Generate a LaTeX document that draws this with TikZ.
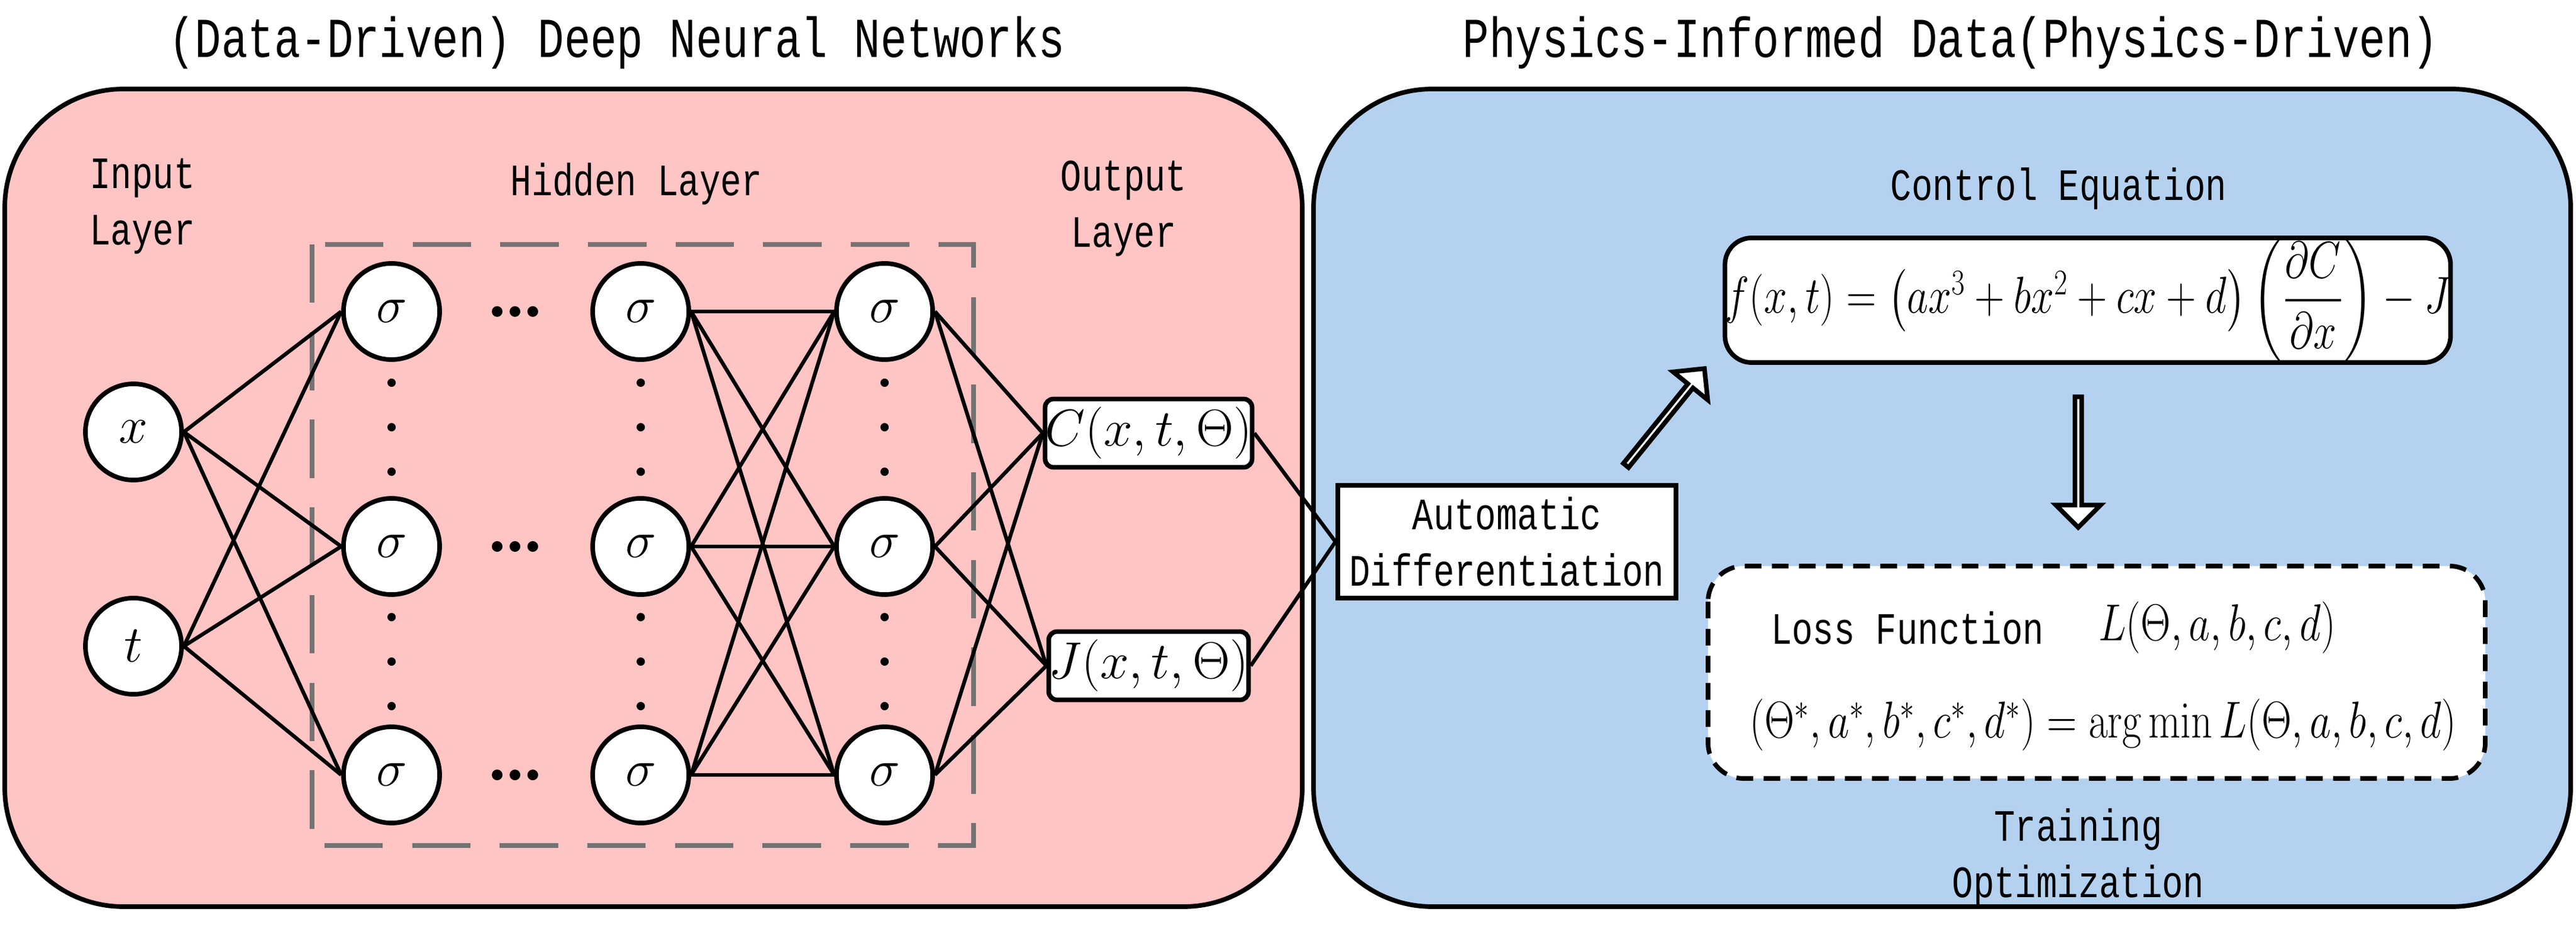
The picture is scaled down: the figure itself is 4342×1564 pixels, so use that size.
\documentclass[tikz,border=0pt]{standalone}
\usepackage[no-math]{fontspec}
\setmainfont{Liberation Mono}[FakeStretch=0.78]
\usepackage{amsmath}
\usetikzlibrary{shapes.arrows}
\definecolor{pinkbg}{RGB}{255,196,196}
\definecolor{bluebg}{RGB}{180,210,240}
\newcommand{\mth}[1]{\fontsize{30}{34}\selectfont$#1$}
\newcommand{\mtt}[1]{\fontsize{27}{32}\selectfont\scalebox{0.8}[1]{$#1$}}
\begin{document}
\begin{tikzpicture}[x=0.01cm,y=-0.01cm,
  neuron/.style={circle,draw,line width=2.2pt,fill=white,minimum size=1.62cm,inner sep=0pt},
  outbox/.style={draw,line width=2.2pt,fill=white,rounded corners=4pt,minimum width=2.8cm,minimum height=1.15cm,inner sep=0pt},
  lbl/.style={font=\fontsize{21.5}{27}\selectfont,align=center},
  ttl/.style={font=\fontsize{27}{32}\selectfont},
  conn/.style={line width=1.8pt},
  hollow/.style={single arrow,draw,line width=2.2pt,fill=white,minimum width=0.75cm,single arrow head extend=0.22cm,single arrow tip angle=90,inner sep=0pt}]
\useasboundingbox (0,0) rectangle (4342,1564);
\fill[white] (0,0) rectangle (4342,1564);
\draw[line width=2.2pt,fill=pinkbg,rounded corners=2cm] (8,150) rectangle (2195,1528);
\draw[line width=2.2pt,fill=bluebg,rounded corners=2cm] (2214,150) rectangle (4333,1528);
\node[ttl] (t1) at (1040,72) {(Data-Driven) Deep Neural Networks};
\node[ttl] (t2) at (3288,72) {Physics-Informed Data(Physics-Driven)};
\node[lbl] (li) at (240,348) {Input\\Layer};
\node[lbl] (lh) at (1073,310) {Hidden Layer};
\node[lbl] (lo) at (1894,352) {Output\\Layer};
\draw[line width=2.2pt,draw=gray!90!black,dash pattern=on 28pt off 14pt] (526,412) rectangle (1641,1425);
\node[neuron] (x) at (225,728) {\mth{x}};
\node[neuron] (t) at (225,1089) {\mth{t}};
\foreach \c/\xx in {1/660,2/1080,3/1491}{
  \foreach \r/\yy in {1/525,2/921,3/1306}{
    \node[neuron] (h\c\r) at (\xx,\yy) {\mth{\sigma}};
  }
  \foreach \yy in {645,720,795,1040,1115,1190}{\fill (\xx,\yy) circle (7);}
}
\foreach \yy in {525,921,1306}{\foreach \dx in {-30,0,30}{\fill (868+\dx,\yy) circle (9);}}
\node[outbox] (C) at (1936,730) {\mth{C(x,t,\Theta)}};
\node[outbox] (J) at (1936,1122) {\mth{J(x,t,\Theta)}};
\foreach \r in {1,2,3}{
  \draw[conn] (x.east) -- (h1\r.west);
  \draw[conn] (t.east) -- (h1\r.west);
  \draw[conn] (h3\r.east) -- (C.west);
  \draw[conn] (h3\r.east) -- (J.west);
  \foreach \s in {1,2,3}{\draw[conn] (h2\r.east) -- (h3\s.west);}
}
\node[draw,line width=2.2pt,fill=white,minimum width=5.7cm,minimum height=1.9cm,lbl,inner sep=0pt] (AD) at (2540,913) {Automatic\\Differentiation};
\draw[conn] (C.east) -- (AD.west);
\draw[conn] (J.east) -- (AD.west);
\node[lbl] (ce) at (3470,318) {Control Equation};
\node[draw,line width=2.2pt,fill=white,rounded corners=0.45cm,minimum width=11.6cm,minimum height=2.1cm,inner sep=0pt] (eq) at (3519,506)
  {\mtt{f(x,t)=\left(ax^3+bx^2+cx+d\right)\left(\dfrac{\partial C}{\partial x}\right)-J}};
\node[hollow,minimum height=2.1cm,rotate=51] (a1) at (2805,705) {};
\node[hollow,minimum height=2.2cm,rotate=-90] (a2) at (3503,776) {};
\draw[line width=2.2pt,fill=white,dash pattern=on 8pt off 5pt,rounded corners=0.6cm] (2879,954) rectangle (4189,1312);
\node[lbl] (lf) at (3215,1058) {Loss Function};
\node (lL) at (3737,1058) {\mtt{L(\Theta,a,b,c,d)}};
\node (am) at (3545,1222) {\mtt{(\Theta^*,a^*,b^*,c^*,d^*)=\arg\min L(\Theta,a,b,c,d)}};
\node[lbl] (tr) at (3503,1445) {Training\\Optimization};
\end{tikzpicture}
\end{document}
